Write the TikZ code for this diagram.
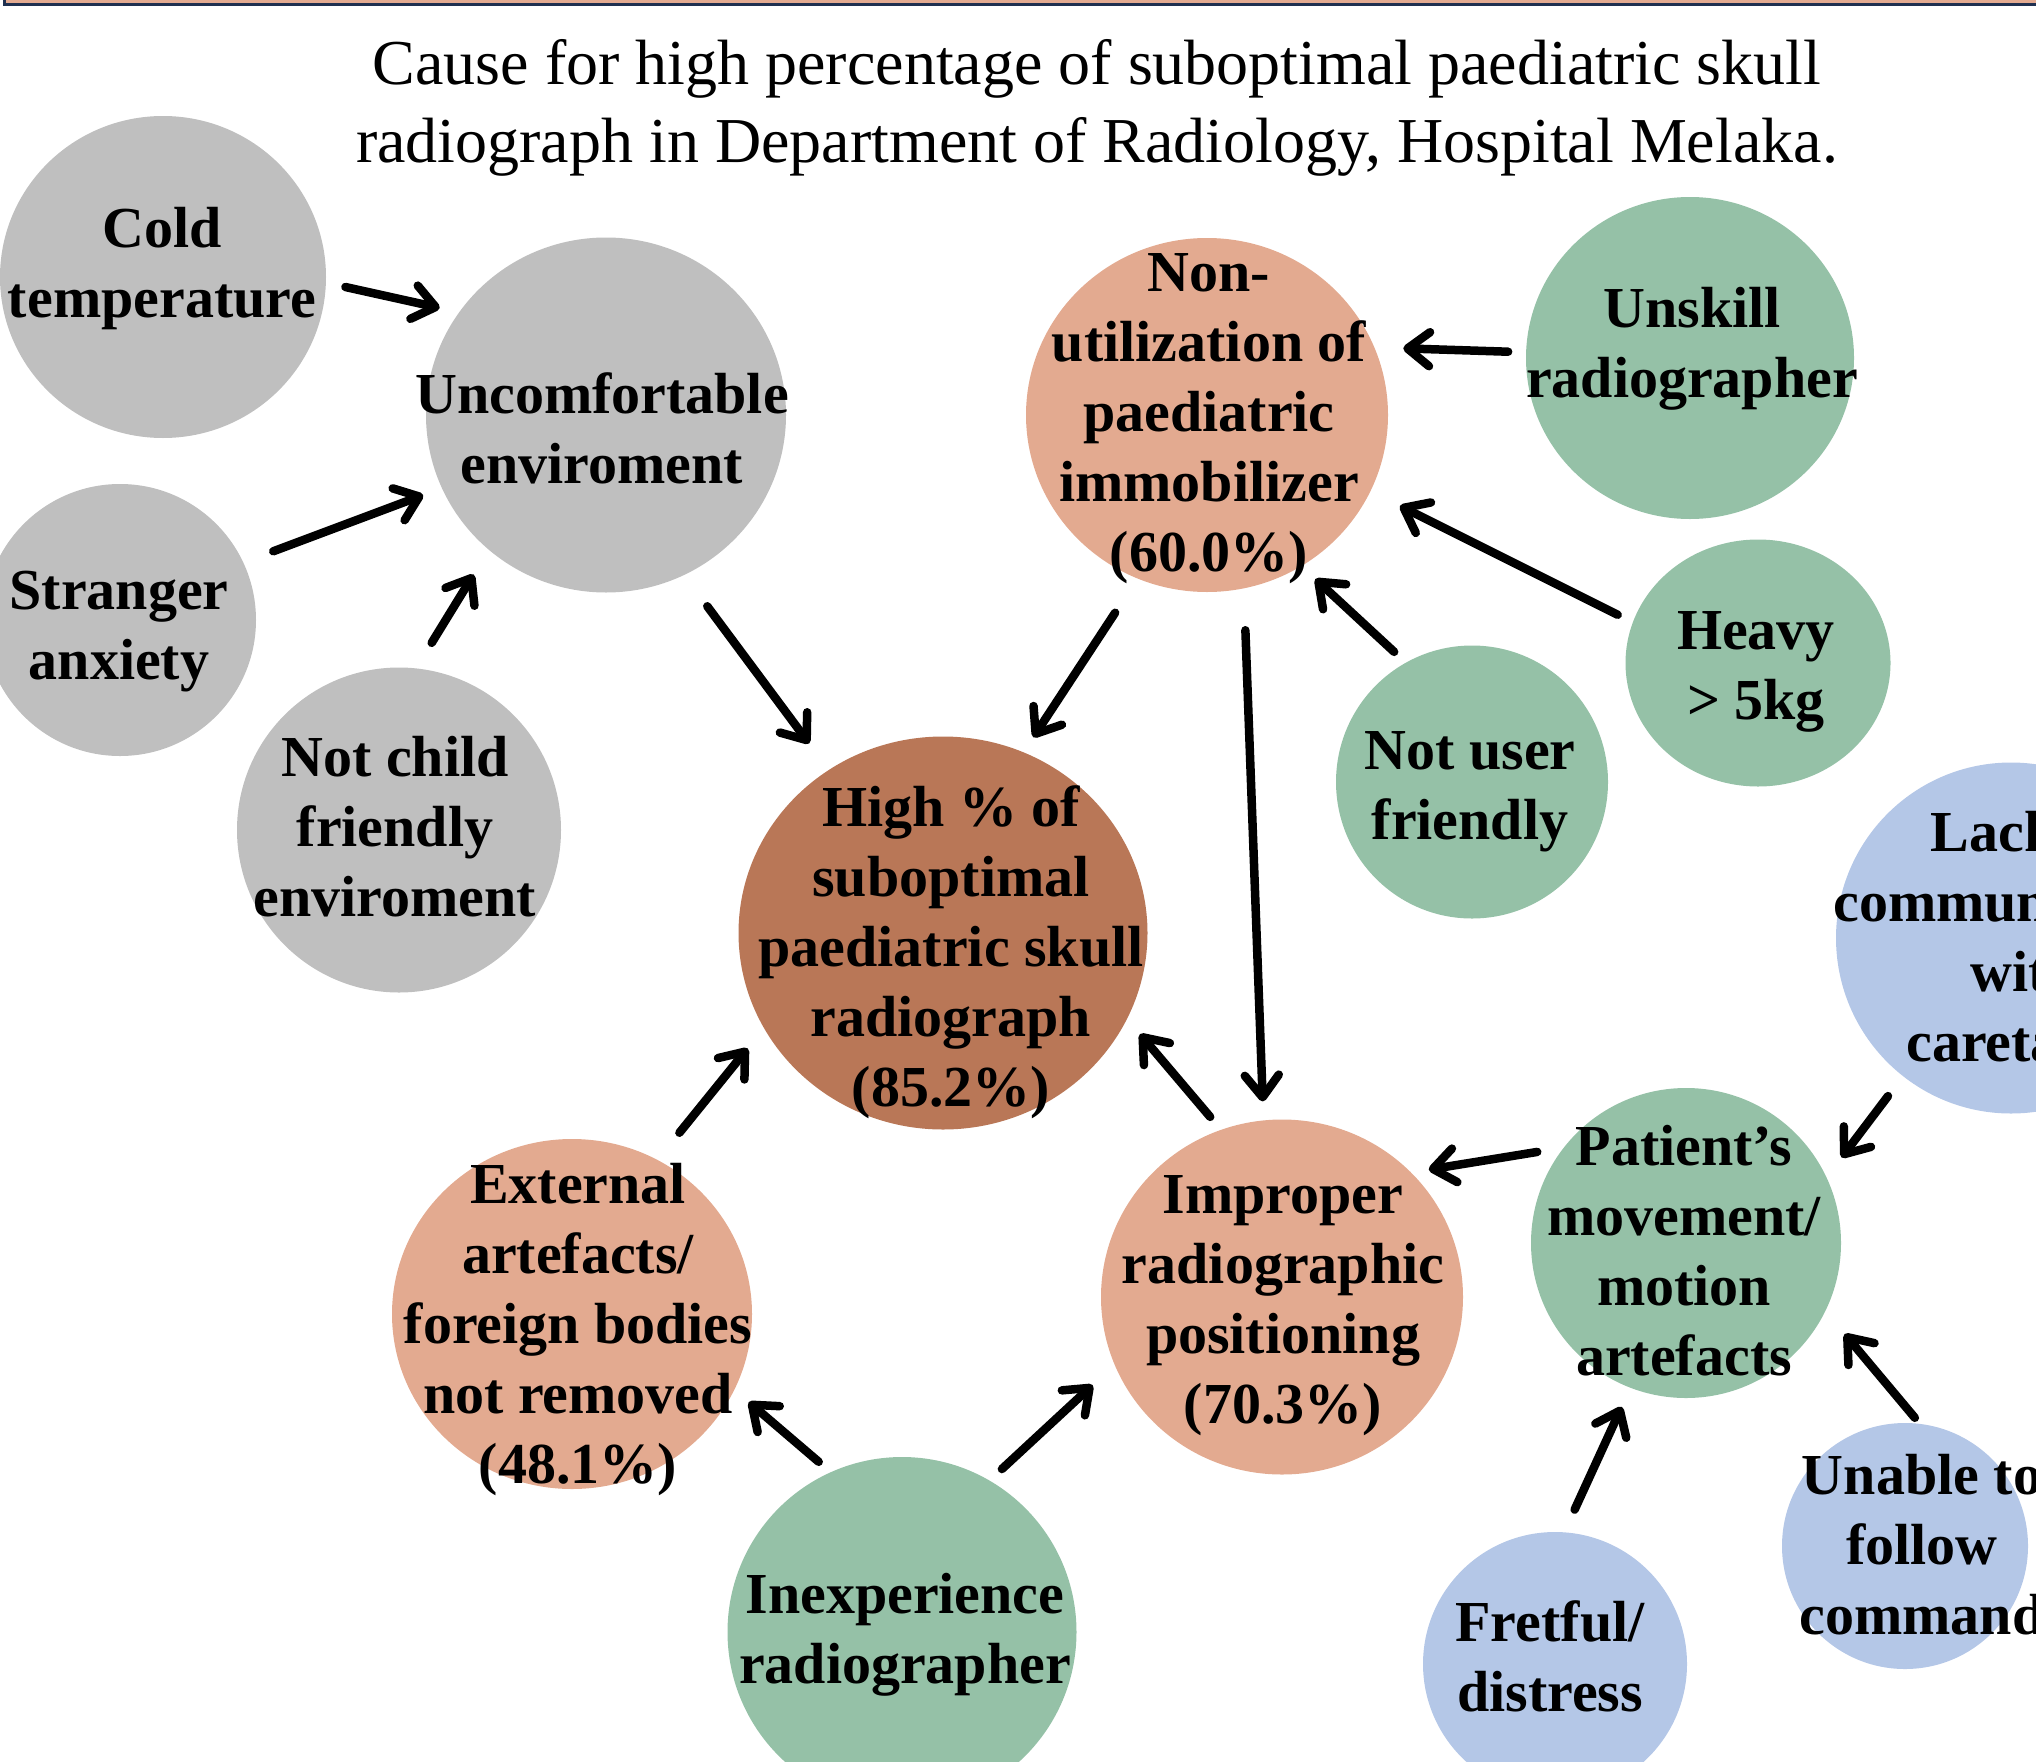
\documentclass[tikz,border=0pt]{standalone}
\usepackage{fontspec}
\setmainfont{Liberation Serif}
\usetikzlibrary{arrows.meta,shapes.geometric}
\definecolor{cgray}{HTML}{BFBFBF}
\definecolor{csalmon}{HTML}{E3AA90}
\definecolor{cbrown}{HTML}{B97757}
\definecolor{cgreen}{HTML}{95C1A7}
\definecolor{cblue}{HTML}{B4C7E7}
\definecolor{cnavy}{HTML}{1F3050}
\begin{document}
\begin{tikzpicture}[x=1pt,y=-1pt,
  bub/.style={ellipse, draw=none, inner sep=0pt, outer sep=0pt},
  lbl/.style={align=center, font=\bfseries\fontsize{58}{70}\selectfont, inner sep=0pt},
  arr/.style={line width=8.5pt, line cap=round, -{Straight Barb[length=22pt,width=34pt,round]}},
]
\useasboundingbox (0,0) rectangle (2036,1761);
% top band
\fill[csalmon] (4.5,-10) rectangle (2045,4.5);
\draw[cnavy, line width=3pt] (4.5,-10) -- (4.5,4.5) -- (2045,4.5);
% title
\node[align=center, font=\fontsize{64}{78}\selectfont, inner sep=0pt] (title) at (1097,108)
  {Cause for high percentage of suboptimal paediatric skull\\radiograph in Department of Radiology, Hospital Melaka.};
% bubbles
\node[bub, fill=cgray, minimum width=326pt, minimum height=322pt] (cold) at (163,277) {};
\node[bub, fill=cgray, minimum width=360pt, minimum height=355pt] (unc) at (606,415) {};
\node[bub, fill=cgray, minimum width=272pt, minimum height=272pt] (stra) at (120,620) {};
\node[bub, fill=cgray, minimum width=324pt, minimum height=325pt] (nchild) at (399,830) {};
\node[bub, fill=csalmon, minimum width=362pt, minimum height=354pt] (nonu) at (1207,415) {};
\node[bub, fill=cgreen, minimum width=328pt, minimum height=322pt] (unsk) at (1690,358) {};
\node[bub, fill=cgreen, minimum width=265pt, minimum height=247pt] (heavy) at (1758,663) {};
\node[bub, fill=cgreen, minimum width=272pt, minimum height=273pt] (nuser) at (1472,782) {};
\node[bub, fill=cbrown, minimum width=409pt, minimum height=393pt] (high) at (943,933) {};
\node[bub, fill=cblue, minimum width=350pt, minimum height=351pt] (lack) at (2011,938) {};
\node[bub, fill=cgreen, minimum width=310pt, minimum height=310pt] (pat) at (1686,1243) {};
\node[bub, fill=csalmon, minimum width=362pt, minimum height=355pt] (impr) at (1282,1297) {};
\node[bub, fill=csalmon, minimum width=360pt, minimum height=350pt] (ext) at (572,1314) {};
\node[bub, fill=cgreen, minimum width=349pt, minimum height=350pt] (inexp) at (902,1632) {};
\node[bub, fill=cblue, minimum width=264pt, minimum height=264pt] (fret) at (1555,1664) {};
\node[bub, fill=cblue, minimum width=246pt, minimum height=246pt] (unab) at (1905,1546) {};
% labels
\node[lbl] (cold-t) at (162,268.5) {Cold\\temperature};
\node[lbl] (unc-t) at (602,428) {Uncomfortable\\enviroment};
\node[lbl] (stra-t) at (119,631.5) {Stranger\\anxiety};
\node[lbl] (nchild-t) at (395,827) {Not child\\friendly\\enviroment};
\node[lbl] (nonu-t) at (1209,419) {Non-\\utilization of\\paediatric\\immobilizer\\(60.0\%)};
\node[lbl] (unsk-t) at (1692,348.5) {Unskill\\radiographer};
\node[lbl] (heavy-t) at (1756,672) {Heavy\\> 5kg};
\node[lbl] (nuser-t) at (1470,791.5) {Not user\\friendly};
\node[lbl] (high-t) at (951,952.5) {High \% of\\suboptimal\\paediatric skull\\radiograph\\(85.2\%)};
\node[lbl] (lack-t) at (2025,936) {Lack of\\communication\\with\\caretaker};
\node[lbl] (pat-t) at (1684,1251) {Patient’s\\movement/\\motion\\artefacts};
\node[lbl] (impr-t) at (1283,1305.5) {Improper\\radiographic\\positioning\\(70.3\%)};
\node[lbl] (ext-t) at (578,1329.5) {External\\artefacts/\\foreign bodies\\not removed\\(48.1\%)};
\node[lbl] (inexp-t) at (905,1634.5) {Inexperience\\radiographer};
\node[lbl] (fret-t) at (1550,1656) {Fretful/\\distress};
\node[lbl] (unab-t) at (1922,1545) {Unable to\\follow\\command};
% arrows
\draw[arr, shorten <=20pt, shorten >=20pt] (cold.-2) -- (unc.145);
\draw[arr, shorten <=32pt, shorten >=20pt] (stra.25.5) -- (unc.-156.7);
\draw[arr, shorten <=30pt, shorten >=29pt] (nchild.84.3) -- (unc.-131);
\draw[arr, shorten <=39pt, shorten >=33pt] (unc.-64.5) -- (high.125.9);
\draw[arr, shorten <=41pt, shorten >=18pt] (nonu.-113.8) -- (high.66.3);
\draw[arr, shorten <=42pt, shorten >=19pt] (nonu.-78.8) -- (impr.96.8);
\draw[arr, shorten <=18pt, shorten >=29pt] (unsk.178.9) -- (nonu.22.4);
\draw[arr, shorten <=17pt, shorten >=33pt] (heavy.162.4) -- (nonu.-25.3);
\draw[arr, shorten <=16pt, shorten >=19pt] (nuser.119.7) -- (nonu.-58.2);
\draw[arr, shorten <=17pt, shorten >=20pt] (impr.110.7) -- (high.-25.4);
\draw[arr, shorten <=35pt, shorten >=26pt] (ext.61.8) -- (high.-152.2);
\draw[arr, shorten <=16pt, shorten >=19pt] (inexp.114.7) -- (ext.-25.8);
\draw[arr, shorten <=17pt, shorten >=30pt] (inexp.60) -- (impr.-158.3);
\draw[arr, shorten <=27pt, shorten >=18pt] (pat.142.1) -- (impr.44.4);
\draw[arr, shorten <=25pt, shorten >=25pt] (lack.-128.5) -- (pat.25.6);
\draw[arr, shorten <=25pt, shorten >=21pt] (fret.86.1) -- (pat.-111.4);
\draw[arr, shorten <=8pt, shorten >=30pt] (unab.83.6) -- (pat.-26.2);
\end{tikzpicture}
\end{document}
